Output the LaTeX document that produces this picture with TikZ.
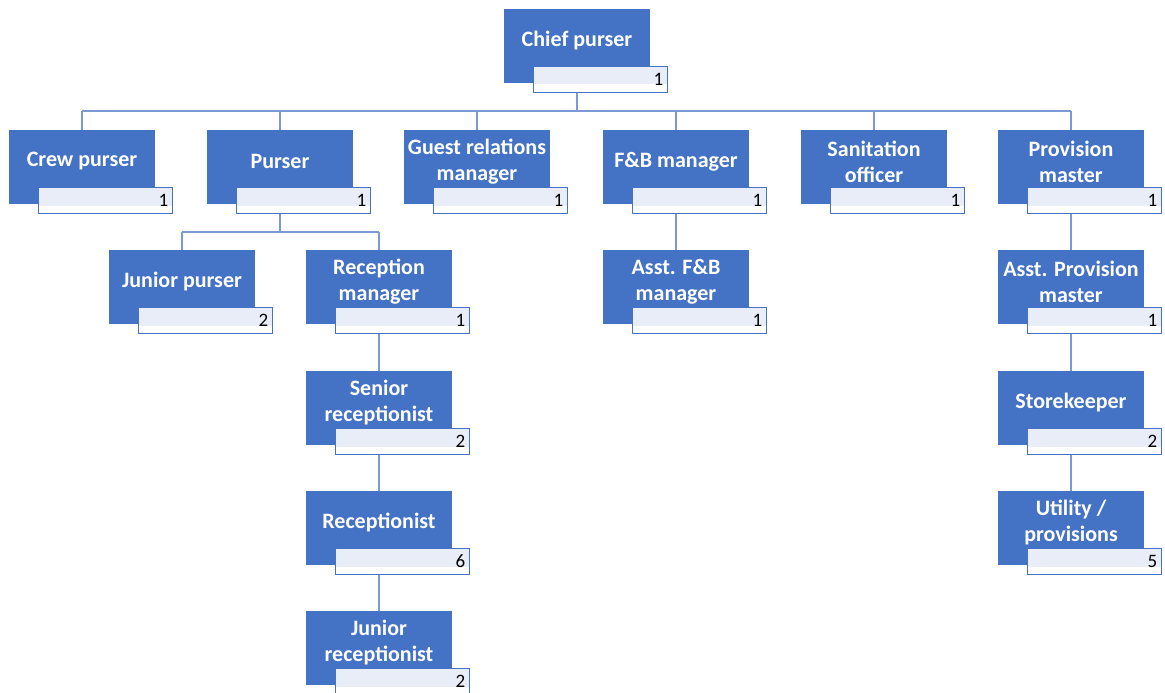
\documentclass[tikz,border=0pt]{standalone}
\usepackage{fontspec}
\setmainfont{Carlito}
\definecolor{postblue}{HTML}{4472C4}
\definecolor{countfill}{HTML}{E9EDF7}
\definecolor{linkblue}{HTML}{7B9AD4}
\tikzset{
  post/.style={fill=postblue, minimum width=146pt, minimum height=74pt, inner sep=0pt, anchor=north},
  posttext/.style={text=white, font=\fontsize{22}{26}\selectfont\bfseries, align=center, inner sep=0pt},
  count/.style={draw=postblue, line width=1pt, fill=white, anchor=north west,
    minimum width=134pt, minimum height=26pt, text width=126pt, align=right,
    inner xsep=4pt, inner ysep=0pt, font=\fontsize{19}{22}\selectfont,
    path picture={\fill[countfill] (path picture bounding box.north west)
      rectangle ([yshift=-18pt]path picture bounding box.north east);}},
  link/.style={draw=linkblue, line width=1.4pt}
}
% name, x, top, text, count
\newcommand\staff[5]{%
  \node[post] (#1) at (#2,#3) {};
  \node[posttext] (#1-t) at ([yshift=-31.5pt]#1.north) {#4};
  \node[count] (#1-n) at ([xshift=29pt,yshift=-57pt]#1.north west) {#5};
}
\begin{document}
\begin{tikzpicture}[x=1pt,y=-1pt]
    \useasboundingbox (0,0) rectangle (1165,693);
    % top
    \staff{chief}{577}{9}{Chief purser}{1}
    % first row
    \staff{crew}{82}{130}{Crew purser}{1}
    \staff{purser}{280}{130}{Purser}{1}
    \staff{guest}{477}{130}{Guest relations\\manager}{1}
    \staff{fb}{676}{130}{F\&B manager}{1}
    \staff{sanit}{874}{130}{Sanitation\\officer}{1}
    \staff{prov}{1071}{130}{Provision\\master}{1}
    % second row
    \staff{jpurser}{182}{250}{Junior purser}{2}
    \staff{recmgr}{379}{250}{Reception\\manager}{1}
    \staff{asstfb}{676}{250}{Asst. F\&B\\manager}{1}
    \staff{asstprov}{1071}{250}{Asst. Provision\\master}{1}
    % lower rows
    \staff{senior}{379}{371}{Senior\\receptionist}{2}
    \staff{store}{1071}{371}{Storekeeper}{2}
    \staff{recpt}{379}{491}{Receptionist}{6}
    \staff{util}{1071}{491}{Utility /\\provisions}{5}
    \staff{jrecpt}{379}{611}{Junior\\receptionist}{2}

    % connectors
    \coordinate (bus1) at (577,111);
    \coordinate (bus2) at (280,232);
    \draw[link] (chief.north |- chief-n.south) -- (bus1);
    \draw[link] (bus1 -| crew.north) -- (bus1 -| prov.north);
    \foreach \n in {crew,purser,guest,fb,sanit,prov}
        \draw[link] (bus1 -| \n.north) -- (\n.north);
    \draw[link] (purser.north |- purser-n.south) -- (bus2);
    \draw[link] (bus2 -| jpurser.north) -- (bus2 -| recmgr.north);
    \foreach \n in {jpurser,recmgr}
        \draw[link] (bus2 -| \n.north) -- (\n.north);
    \foreach \a/\b in {fb/asstfb,prov/asstprov,asstprov/store,store/util,recmgr/senior,senior/recpt,recpt/jrecpt}
        \draw[link] (\a.north |- \a-n.south) -- (\b.north);
\end{tikzpicture}
\end{document}
